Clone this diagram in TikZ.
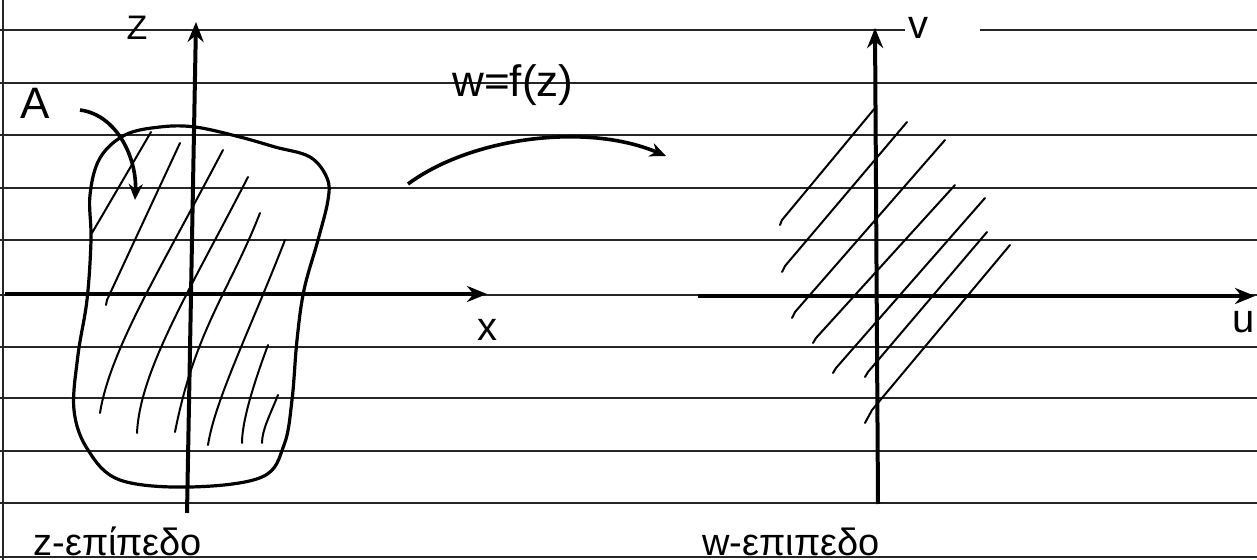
\documentclass[tikz,border=0pt]{standalone}
\usepackage{fontspec}
\setmainfont{Liberation Sans}
\usetikzlibrary{arrows.meta}
\begin{document}
\begin{tikzpicture}[x=0.5pt,y=-0.5pt,
  rule/.style={line width=0.7pt, black!85},
  axis/.style={line width=2pt, -{Stealth[length=10pt,width=8pt]}},
  blob/.style={line width=1.6pt},
  hatch/.style={line width=1pt, line cap=round},
  mapar/.style={line width=1.8pt, -{Stealth[length=8pt,width=7pt]}},
  lbl/.style={inner sep=0pt, font=\fontsize{17}{17}\selectfont}]
\useasboundingbox (0,0) rectangle (1257,560);
% ruled paper
\draw[rule] (3,0) -- (3,560);
\draw[rule] (0,30) -- (905,30) (980,30) -- (1257,30);
\foreach \y in {83,135,188,240,295,347,398,451,503,557}
  \draw[rule] (0,\y) -- (1257,\y);
% axis end points
\coordinate (zb) at (187,513);
\coordinate (zt) at (196,22);
\coordinate (xl) at (5,294);
\coordinate (xr) at (487,294);
\coordinate (vb) at (878,504);
\coordinate (vt) at (875,28);
\coordinate (ul) at (698,296);
\coordinate (ur) at (1255,296);
% region A
\draw[blob] plot[smooth cycle, tension=0.6] coordinates {
  (100,158) (125,135) (160,127) (195,127) (240,137) (275,147) (310,157)
  (327,178) (328,200) (318,240) (304,290) (297,340) (292,400) (284,445)
  (262,477) (190,487) (120,480) (88,450) (74,410) (78,355) (87,300)
  (91,240) (90,195)};
% hatching in z-plane
\draw[hatch] (151,132) -- (92,233);
\draw[hatch] (180,143) -- (107,300) -- (106,305);
\draw[hatch] (223,150) .. controls (160,270) and (110,350) .. (100,413);
\draw[hatch] (248,177) .. controls (190,290) and (140,370) .. (137,433);
\draw[hatch] (260,213) .. controls (230,290) and (195,330) .. (175,432);
\draw[hatch] (285,240) .. controls (250,330) and (215,400) .. (208,445);
\draw[hatch] (268,345) .. controls (255,380) and (242,420) .. (242,443);
\draw[hatch] (278,395) .. controls (270,415) and (262,430) .. (262,443);
% hatching in w-plane
\draw[hatch] (875,108) -- (782,220) -- (780,225);
\draw[hatch] (907,122) -- (785,266) -- (782,272);
\draw[hatch] (945,140) -- (795,312) -- (792,318);
\draw[hatch] (955,185) -- (816,338) -- (813,343);
\draw[hatch] (985,198) -- (836,368) -- (833,373);
\draw[hatch] (987,232) -- (868,372) -- (865,377);
\draw[hatch] (1010,245) -- (872,410) -- (865,423);
% axes
\draw[axis] (zb) -- (zt);
\draw[axis] (xl) -- (xr);
\draw[axis] (vb) -- (vt);
\draw[axis] (ul) -- (ur);
% labels
\node[lbl, font=\fontsize{17}{17}\selectfont] (Z) at (137,28) {Z};
\node[lbl, font=\fontsize{22}{22}\selectfont] (A) at (35,103) {A};
\node[lbl, font=\fontsize{20}{20}\selectfont] (v) at (918,28) {v};
\node[lbl, font=\fontsize{20}{20}\selectfont] (x) at (487,330) {x};
\node[lbl, font=\fontsize{20}{20}\selectfont] (u) at (1244,322) {u};
\node[lbl, anchor=base west, font=\fontsize{22}{22}\selectfont] (wf) at (452,97) {w=f(z)};
\node[lbl, anchor=base west, font=\fontsize{19}{19}\selectfont] (zp) at (33,555) {z-επίπεδο};
\node[lbl, anchor=base west, font=\fontsize{19}{19}\selectfont] (wp) at (702,555) {w-επιπεδο};
% arrows
\coordinate (m1) at (408,184);
\coordinate (m2) at (666,156);
\draw[mapar] (m1) .. controls (470,138) and (585,122) .. (m2);
\coordinate (a1) at (80,110);
\coordinate (a2) at (135,200);
\draw[mapar] (a1) .. controls (118,115) and (137,160) .. (a2);
\end{tikzpicture}
\end{document}
